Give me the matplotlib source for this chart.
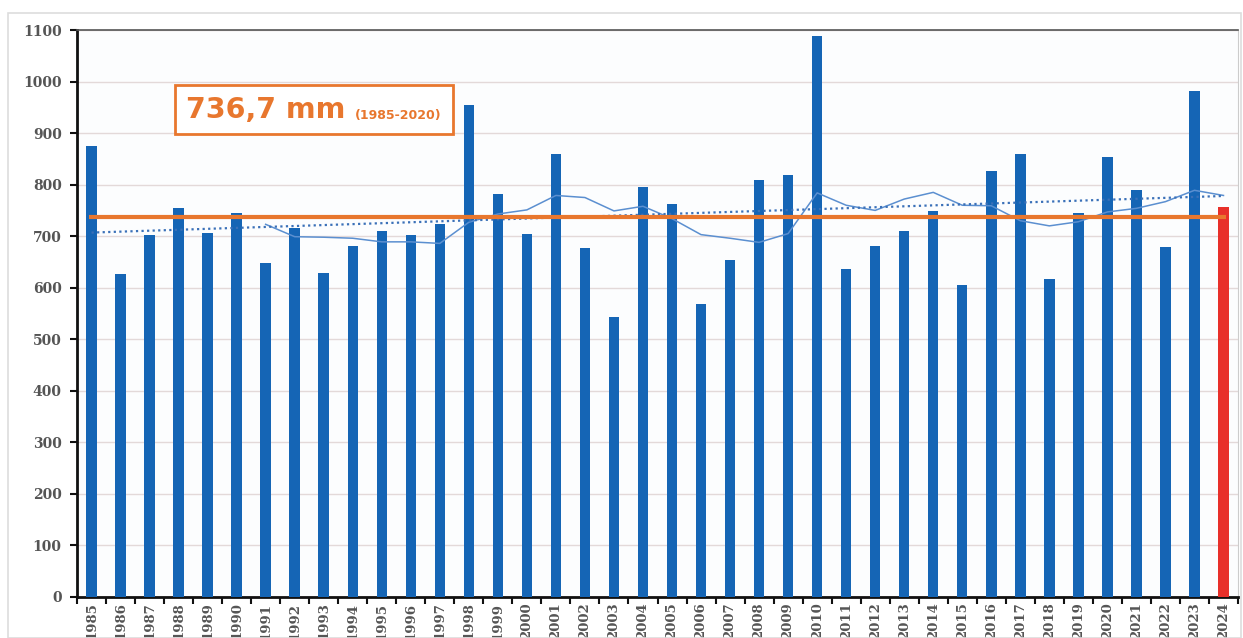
import matplotlib
matplotlib.use("Agg")
import matplotlib.pyplot as plt
from matplotlib.patches import Rectangle

anos = [str(a) for a in range(1985, 2025)]

chuva = [875, 626, 703, 754, 707, 745, 648, 715, 628, 680,
         711, 703, 723, 955, 781, 705, 859, 677, 543, 795,
         762, 569, 654, 809, 818, 1088, 637, 681, 710, 749,
         605, 826, 859, 617, 745, 854, 789, 679, 982, 756]

# media movel de 7 anos (comeca em 1991)
anos_media = anos[6:]
media_movel = [723, 699, 698, 696, 689, 689, 686, 727, 743, 751,
               779, 775, 749, 758, 734, 703, 696, 688, 705, 784,
               760, 750, 772, 785, 760, 759, 730, 720, 728, 747,
               754, 767, 789, 779]

# linha de tendencia (extremos)
anos_tendencia = [anos[0], anos[-1]]
tendencia = [707, 778]

normal = 736.7
texto_normal = "736,7 mm"
texto_periodo = "(1985-2020)"

AZUL = "#1565b5"
VERMELHO = "#e8302a"
LARANJA = "#e8772e"


def grafico_chuva():
    fig = plt.figure(figsize=(12.43, 6.38), dpi=100)
    fig.patches.append(Rectangle((8 / 1243, 0), 1 - 10 / 1243, 1 - 13 / 638,
                                 transform=fig.transFigure, fill=False,
                                 edgecolor="#dddddd", linewidth=1.2))
    ax = fig.add_axes([77 / 1243, 41 / 638, 1161 / 1243, 567 / 638])
    ax.set_facecolor("#fcfdfe")

    x = list(range(len(anos)))
    cores = [AZUL] * (len(anos) - 1) + [VERMELHO]
    ax.bar(x, chuva, width=0.36, color=cores, zorder=3)

    xm = [anos.index(a) for a in anos_media]
    ax.plot(xm, media_movel, color="#5b8fd0", linewidth=1.1, zorder=4)

    xt = [anos.index(a) for a in anos_tendencia]
    ax.plot(xt, tendencia, color="#3a70b8", linewidth=1.6,
            linestyle=(0, (1, 1.5)), zorder=4)

    ax.hlines(normal, -0.1, len(anos) - 0.9, color=LARANJA, linewidth=3, zorder=5)

    ax.set_ylim(0, 1100)
    ax.set_xlim(-0.48, len(anos) - 0.85)
    ax.set_yticks(range(0, 1101, 100))
    ax.grid(axis="y", color="#e3d9d9", linewidth=1, zorder=0)

    ax.set_xticks([i + 0.5 for i in range(-1, len(anos))], minor=False)
    ax.set_xticklabels([])
    ax.set_xticks(x, minor=True)
    ax.set_xticklabels(anos, minor=True, rotation=90, fontsize=9.5,
                       family="DejaVu Serif", fontweight="bold", color="#555555")
    ax.tick_params(axis="x", which="minor", length=0, pad=4)
    ax.tick_params(axis="x", which="major", length=5, width=1.5, color="#111111")
    ax.tick_params(axis="y", length=5, width=1.5, color="#111111", pad=6)
    for rotulo in ax.get_yticklabels():
        rotulo.set_family("DejaVu Serif")
        rotulo.set_fontweight("bold")
        rotulo.set_fontsize(10)
        rotulo.set_color("#555555")

    ax.spines["left"].set_linewidth(2)
    ax.spines["left"].set_color("#111111")
    ax.spines["bottom"].set_linewidth(2)
    ax.spines["bottom"].set_color("#111111")
    ax.spines["top"].set_color("#555555")
    ax.spines["top"].set_linewidth(1.2)
    ax.spines["right"].set_color("#cccccc")

    ax.add_patch(Rectangle((175 / 1243, 504 / 638), 278 / 1243, 49 / 638,
                           transform=fig.transFigure, fill=True,
                           facecolor="white", edgecolor=LARANJA,
                           linewidth=2, zorder=6))
    fig.text(186 / 1243, 528 / 638, texto_normal, color=LARANJA, fontsize=20.5,
             fontweight="bold", va="center", ha="left", zorder=7)
    fig.text(355 / 1243, 522 / 638, texto_periodo, color=LARANJA, fontsize=9,
             fontweight="bold", va="center", ha="left", zorder=7)

    fig.savefig("out.png", dpi=100)


def main():
    grafico_chuva()


if __name__ == "__main__":
    main()
